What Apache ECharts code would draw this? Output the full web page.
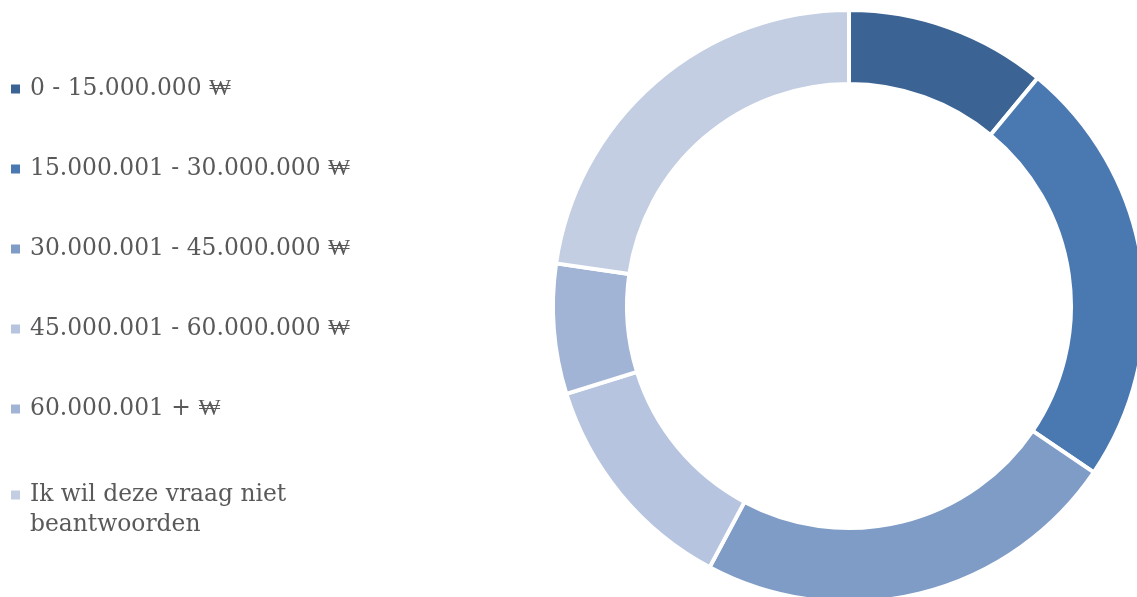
<!DOCTYPE html>
<html>
<head>
<meta charset="utf-8">
<script src="https://cdn.jsdelivr.net/npm/echarts@6/dist/echarts.min.js"></script>
<style>
    html, body { margin: 0; padding: 0; background: #fff; }
    #chart { width: 1137px; height: 597px; }
</style>
</head>
<body>
<div id="chart"></div>
<script>
// income brackets (share of answers, %)
const categories = [
    '0 - 15.000.000 ₩',
    '15.000.001 - 30.000.000 ₩',
    '30.000.001 - 45.000.000 ₩',
    '45.000.001 - 60.000.000 ₩',
    '60.000.001 + ₩',
    'Ik wil deze vraag niet beantwoorden',
];
const values = [11.0, 23.5, 23.3, 12.4, 7.1, 22.7];
const colors = ['#3b6494', '#4a78b0', '#7f9cc7', '#b6c4df', '#a2b4d5', '#c3cee2'];

const chart = echarts.init(document.getElementById('chart'));

const legendText = {
    fontFamily: 'DejaVu Serif',
    fontSize: 23.4,
    color: '#595959',
    lineHeight: 30,
    padding: [0, 0, 0, 5],
};
const legendBase = {
    orient: 'vertical',
    left: 11,
    padding: 0,
    itemGap: 50,
    itemWidth: 9,
    itemHeight: 9,
    icon: 'rect',
    itemStyle: { borderWidth: 0 },
    selectedMode: false,
    textStyle: legendText,
};
const last = categories.length - 1;

chart.setOption({
    color: colors,
    animation: false,
    legend: [
        Object.assign({}, legendBase, {
            top: 74,
            data: categories.slice(0, last),
        }),
        // long answer wraps; empty first line keeps the icon beside line one
        Object.assign({}, legendBase, {
            top: 450,
            data: [categories[last]],
            formatter: name => '\n' + name,
            textStyle: Object.assign({}, legendText, { width: 300, overflow: 'break' }),
        }),
    ],
    series: [
        {
            type: 'pie',
            center: [849, 306],
            radius: [222, 296],
            startAngle: 90,
            clockwise: true,
            label: { show: false },
            labelLine: { show: false },
            emphasis: { disabled: true },
            itemStyle: { borderColor: '#fff', borderWidth: 4 },
            data: categories.map((name, i) => ({ name: name, value: values[i] })),
        },
    ],
});
</script>
</body>
</html>
